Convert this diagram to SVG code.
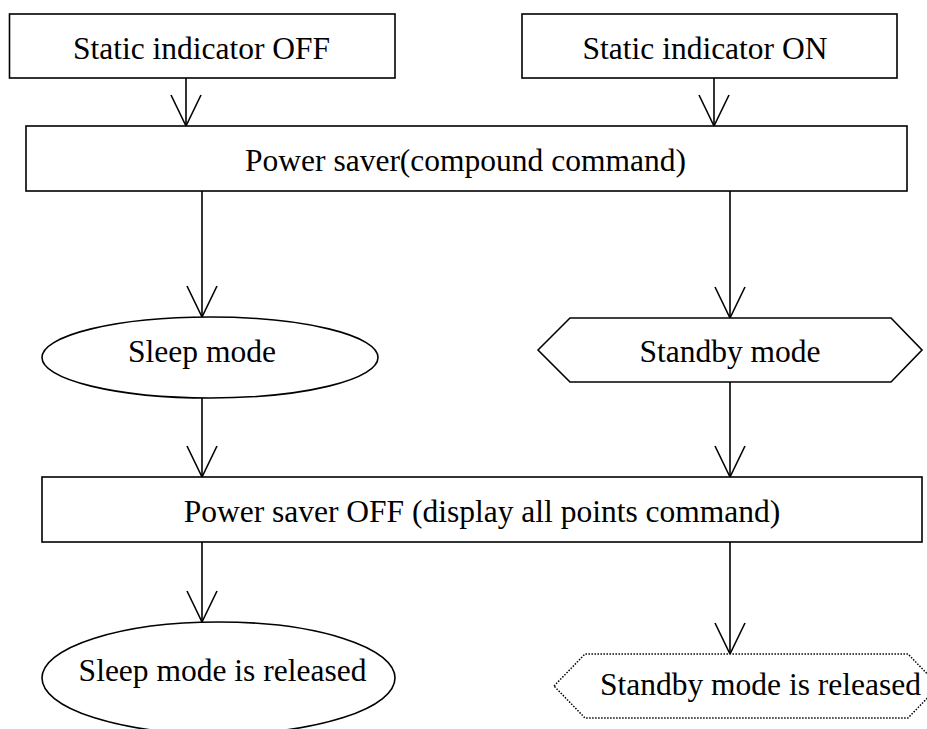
<svg xmlns="http://www.w3.org/2000/svg" width="927" height="729" viewBox="0 0 927 729">
  <style>
    .shape { fill: #ffffff; stroke: #000000; stroke-width: 1.6; }
    .dotted { fill: #ffffff; stroke: #000000; stroke-width: 1.5; stroke-dasharray: 1.5 1.5; }
    .label { font-family: "Liberation Serif", "Times New Roman", serif; font-size: 31.5px; fill: #000000; text-anchor: middle; }
    .edge { fill: none; stroke: #000000; stroke-width: 1.6; marker-end: url(#vhead); }
  </style>
  <defs>
    <marker id="vhead" markerUnits="userSpaceOnUse" markerWidth="40" markerHeight="40" viewBox="-35 -20 40 40" refX="0" refY="0" orient="auto" overflow="visible">
      <path d="M-31,-15 L0,0 L-31,15" fill="none" stroke="#000000" stroke-width="1.6"/>
    </marker>
  </defs>
  <rect width="927" height="729" fill="#ffffff"/>

  <g id="connectors">
    <line class="edge" x1="186" y1="78" x2="186" y2="126"/>
    <line class="edge" x1="714" y1="78" x2="714" y2="126"/>
    <line class="edge" x1="202" y1="191" x2="202" y2="317"/>
    <line class="edge" x1="730" y1="191" x2="730" y2="318"/>
    <line class="edge" x1="202" y1="398" x2="202" y2="477"/>
    <line class="edge" x1="730" y1="382" x2="730" y2="477"/>
    <line class="edge" x1="202" y1="542" x2="202" y2="622"/>
    <line class="edge" x1="730" y1="542" x2="730" y2="654"/>
  </g>

  <g id="static-off">
    <rect class="shape" x="9.5" y="14" width="385.5" height="64"/>
    <text class="label" x="201.5" y="59">Static indicator OFF</text>
  </g>

  <g id="static-on">
    <rect class="shape" x="522" y="14" width="375" height="64"/>
    <text class="label" x="705" y="59">Static indicator ON</text>
  </g>

  <g id="power-saver">
    <rect class="shape" x="26" y="126" width="881" height="65"/>
    <text class="label" x="465.5" y="171">Power saver(compound command)</text>
  </g>

  <g id="sleep-mode">
    <ellipse class="shape" cx="210" cy="357.5" rx="168" ry="40.5"/>
    <text class="label" x="202" y="362">Sleep mode</text>
  </g>

  <g id="standby-mode">
    <polygon class="shape" points="538,350 570,318 891,318 922,350 891,382 570,382"/>
    <text class="label" x="730" y="362">Standby mode</text>
  </g>

  <g id="power-saver-off">
    <rect class="shape" x="42" y="477" width="880" height="65"/>
    <text class="label" x="482" y="522">Power saver OFF (display all points command)</text>
  </g>

  <g id="sleep-released">
    <ellipse class="shape" cx="218.5" cy="678" rx="176.5" ry="56"/>
    <text class="label" x="222.5" y="681">Sleep mode is released</text>
  </g>

  <g id="standby-released">
    <polygon class="dotted" points="554,686 585,654 908,654 939,686 908,718 585,718"/>
    <text class="label" x="760.5" y="695">Standby mode is released</text>
  </g>
</svg>
